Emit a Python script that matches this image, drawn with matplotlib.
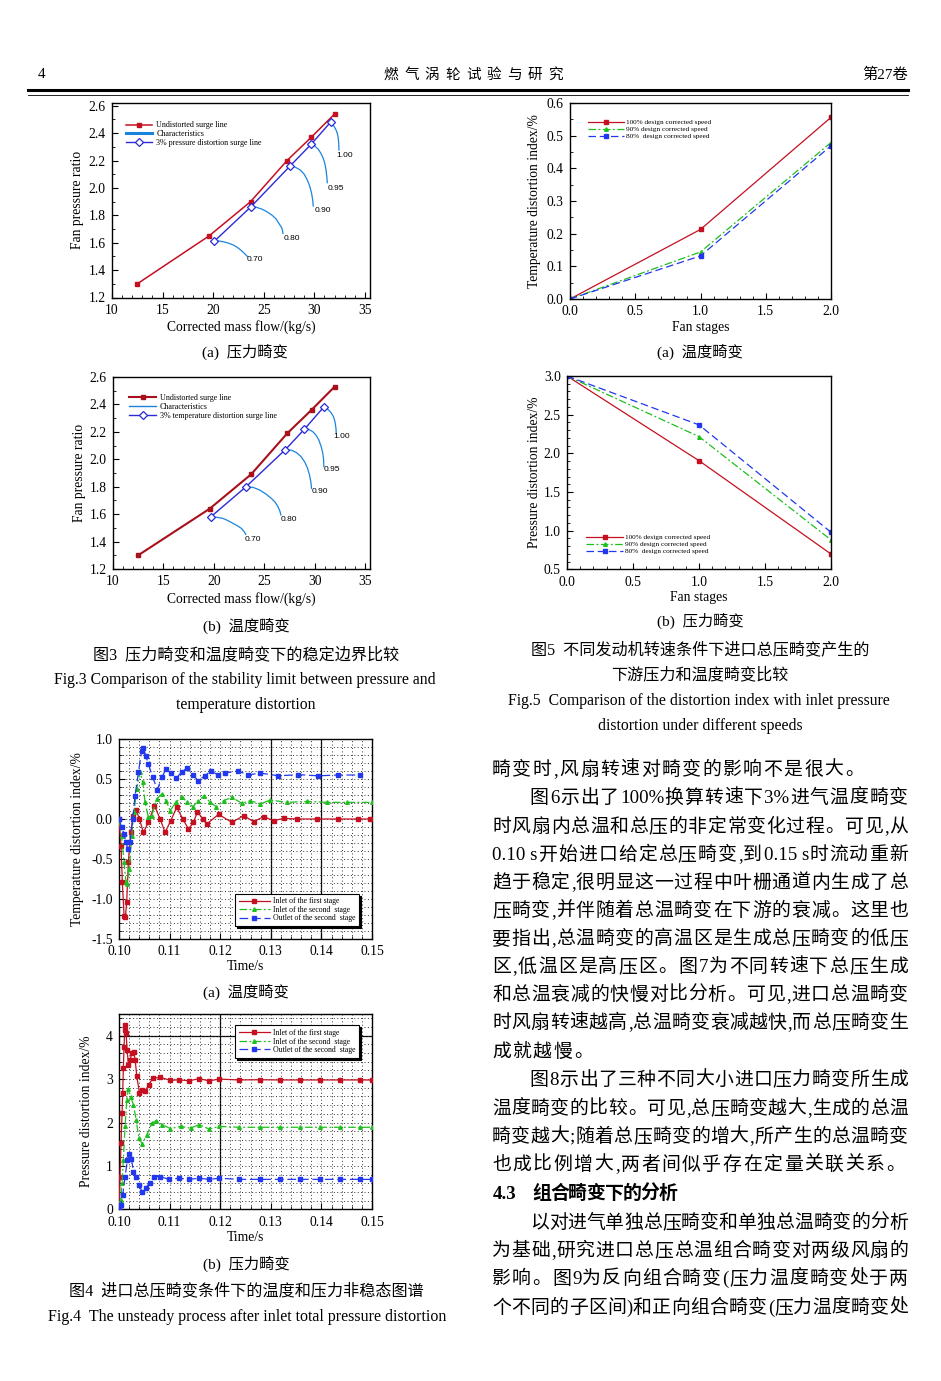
import re
import matplotlib
matplotlib.use('Agg')
import matplotlib.pyplot as plt
from matplotlib.lines import Line2D
from matplotlib.ticker import MultipleLocator, FormatStrFormatter

# ---------------- data ----------------
# Fig.3(a) pressure distortion
mass_undist_a = [12.5, 19.6, 23.7, 27.3, 29.7, 32.0]
pr_undist_a = [1.30, 1.65, 1.90, 2.20, 2.37, 2.54]
mass_dist_a = [20.1, 23.7, 27.6, 29.7, 31.6]
pr_dist_a = [1.61, 1.86, 2.16, 2.32, 2.48]
char_mass_a = [
    [20.1, 20.6, 21.0, 21.5, 22.0, 22.4, 22.8, 23.1, 23.4],
    [23.7, 24.2, 24.8, 25.3, 25.8, 26.2, 26.5, 26.8, 26.9],
    [27.6, 28.1, 28.6, 29.0, 29.3, 29.55, 29.73, 29.83, 29.89],
    [29.7, 30.05, 30.4, 30.65, 30.88, 31.05, 31.15, 31.23, 31.28],
    [31.6, 31.8, 31.97, 32.13, 32.27, 32.35, 32.4, 32.42, 32.43],
]
char_pr_a = [
    [1.61, 1.612, 1.607, 1.597, 1.583, 1.565, 1.542, 1.521, 1.498],
    [1.86, 1.860, 1.846, 1.827, 1.802, 1.775, 1.741, 1.705, 1.668],
    [2.16, 2.152, 2.131, 2.100, 2.058, 2.012, 1.960, 1.914, 1.868],
    [2.32, 2.305, 2.281, 2.252, 2.216, 2.175, 2.131, 2.085, 2.038],
    [2.48, 2.465, 2.447, 2.425, 2.398, 2.370, 2.337, 2.307, 2.277],
]
speed_labels = ['0.70', '0.80', '0.90', '0.95', '1.00']

# Fig.3(b) temperature distortion
mass_undist_b = [12.5, 19.6, 23.7, 27.3, 29.7, 32.0]
pr_undist_b = [1.30, 1.64, 1.89, 2.19, 2.36, 2.53]
mass_dist_b = [19.7, 23.2, 27.1, 29.0, 30.9]
pr_dist_b = [1.58, 1.80, 2.07, 2.22, 2.38]
char_mass_b = [
    [19.7, 20.3, 20.9, 21.4, 21.9, 22.35, 22.74, 23.0, 23.17],
    [23.2, 23.9, 24.55, 25.15, 25.71, 26.1, 26.37, 26.55, 26.66],
    [27.1, 27.7, 28.18, 28.65, 29.01, 29.3, 29.50, 29.63, 29.70],
    [29.0, 29.45, 29.83, 30.15, 30.43, 30.65, 30.82, 30.9, 30.92],
    [30.9, 31.22, 31.49, 31.7, 31.88, 32.0, 32.08, 32.13, 32.15],
]
char_pr_b = [
    [1.58, 1.577, 1.569, 1.553, 1.533, 1.515, 1.496, 1.474, 1.453],
    [1.80, 1.795, 1.776, 1.748, 1.715, 1.686, 1.654, 1.624, 1.594],
    [2.07, 2.066, 2.050, 2.020, 1.982, 1.935, 1.885, 1.836, 1.788],
    [2.22, 2.217, 2.201, 2.175, 2.140, 2.093, 2.043, 1.995, 1.946],
    [2.38, 2.370, 2.352, 2.333, 2.310, 2.281, 2.250, 2.220, 2.189],
]

# Fig.5 distortion index vs fan stages
stages = [0.0, 1.0, 2.0]
temp_idx_100 = [0.0, 0.213, 0.556]
temp_idx_90 = [0.0, 0.144, 0.479]
temp_idx_80 = [0.0, 0.132, 0.469]
pres_idx_100 = [3.0, 1.905, 0.698]
pres_idx_90 = [3.0, 2.216, 0.880]
pres_idx_80 = [3.0, 2.368, 0.979]
speed_names = ['100% design corrected speed', '90% design corrected speed',
               '80%  design corrected speed']

# Fig.4(a) temperature distortion index vs time
t_temp_in1 = [0.1000, 0.1004, 0.10066, 0.1010, 0.10125, 0.10152, 0.10185, 0.10231,
              0.10284, 0.10337, 0.10403, 0.10482, 0.10581, 0.10700, 0.10812, 0.10911,
              0.11023, 0.11142, 0.11261, 0.11373, 0.11472, 0.11551, 0.11657, 0.11736,
              0.11967, 0.12231, 0.12462, 0.12660, 0.12858, 0.13056, 0.13254, 0.1352,
              0.1392, 0.1432, 0.1472, 0.1497]
v_temp_in1 = [0.0, -0.333, -0.79, -1.21, -1.23, -1.04, -0.54, -0.167,
              0.042, 0.117, 0.0, -0.167, -0.042, 0.167, 0.0, -0.167,
              -0.021, 0.146, 0.0, -0.125, -0.042, 0.092, 0.0, -0.0625,
              0.058, -0.042, 0.042, -0.033, 0.029, -0.021, 0.008, 0.0,
              0.0, 0.0, 0.0, 0.0]
t_temp_in2 = [0.1000, 0.10053, 0.10099, 0.10139, 0.10152, 0.10205, 0.10251, 0.10297,
              0.10350, 0.10416, 0.10469, 0.10515, 0.10581, 0.10647, 0.10746, 0.10845,
              0.10931, 0.11010, 0.11122, 0.11241, 0.11353, 0.11459, 0.11571, 0.11683,
              0.11802, 0.11921, 0.12066, 0.12231, 0.12429, 0.12594, 0.12792, 0.12990,
              0.13320, 0.13716, 0.14112, 0.14508, 0.1500]
v_temp_in2 = [0.0, -0.21, -0.54, -0.79, -0.81, -0.625, -0.21, 0.083,
              0.375, 0.59, 0.458, 0.208, 0.021, 0.042, 0.25, 0.3125,
              0.229, 0.104, 0.208, 0.279, 0.208, 0.154, 0.229, 0.29,
              0.208, 0.154, 0.229, 0.27, 0.196, 0.229, 0.1875, 0.2375,
              0.208, 0.22, 0.208, 0.208, 0.208]
t_temp_out2 = [0.1000, 0.10053, 0.10099, 0.10139, 0.10172, 0.10218, 0.10271, 0.10317,
               0.10383, 0.10449, 0.10482, 0.10528, 0.10581, 0.10667, 0.10759, 0.10845,
               0.10931, 0.11030, 0.11129, 0.11241, 0.11353, 0.11459, 0.11567, 0.11696,
               0.11815, 0.11960, 0.12092, 0.12356, 0.12554, 0.12785, 0.13148, 0.13545,
               0.13941, 0.14337, 0.14766]
v_temp_out2 = [0.0, -0.104, -0.1875, -0.29, -0.375, -0.29, 0.0, 0.29,
               0.583, 0.854, 0.883, 0.79, 0.6875, 0.52, 0.367, 0.52,
               0.625, 0.575, 0.508, 0.59, 0.64, 0.55, 0.479, 0.54,
               0.60, 0.55, 0.575, 0.60, 0.55, 0.575, 0.54, 0.554,
               0.54, 0.55, 0.55]

# Fig.4(b) pressure distortion index vs time
t_pres_in1 = [0.1000, 0.1002, 0.1004, 0.1006, 0.10073, 0.10086, 0.1010, 0.10113,
              0.10126, 0.1014, 0.1016, 0.10186, 0.10219, 0.10259, 0.10292, 0.10319,
              0.10352, 0.10405, 0.10458, 0.10518, 0.10585, 0.10671, 0.10817, 0.11017,
              0.11183, 0.11382, 0.11581, 0.11781, 0.1198, 0.12379, 0.12777, 0.13176,
              0.13575, 0.13973, 0.14372, 0.14771, 0.1500]
v_pres_in1 = [0.0, 0.754, 1.52, 2.215, 2.68, 3.25, 3.75, 4.14,
              4.25, 4.06, 3.68, 3.33, 3.45, 3.60, 3.62, 3.45,
              3.06, 2.68, 2.75, 2.715, 2.87, 3.02, 3.04, 2.97,
              2.985, 2.96, 3.01, 2.96, 3.00, 2.98, 2.985, 2.98,
              2.98, 2.98, 2.98, 2.98, 2.98]
t_pres_in2 = [0.1000, 0.10033, 0.1006, 0.10086, 0.10120, 0.10153, 0.10186, 0.10233,
              0.10286, 0.10339, 0.10392, 0.10458, 0.10551, 0.10651, 0.10738, 0.10850,
              0.11017, 0.11216, 0.11415, 0.11581, 0.11781, 0.11980, 0.12379, 0.12777,
              0.13176, 0.13575, 0.13973, 0.14372, 0.14771, 0.1500]
v_pres_in2 = [0.0, 0.215, 0.60, 1.14, 1.91, 2.52, 2.78, 2.58,
              2.41, 2.06, 1.64, 1.51, 1.715, 1.985, 2.04, 1.95,
              1.86, 1.91, 1.87, 1.95, 1.85, 1.91, 1.89, 1.89,
              1.89, 1.89, 1.89, 1.89, 1.89, 1.89]
t_pres_out2 = [0.1000, 0.10033, 0.10073, 0.10120, 0.10166, 0.10206, 0.10246, 0.10286,
               0.10339, 0.10392, 0.10458, 0.10525, 0.10605, 0.10698, 0.10817, 0.10983,
               0.11183, 0.11382, 0.11581, 0.11781, 0.1198, 0.12379, 0.12777, 0.13176,
               0.13575, 0.13973, 0.14372, 0.14771, 0.1500]
v_pres_out2 = [0.0, 0.10, 0.33, 0.75, 1.14, 1.28, 1.15, 0.87,
               0.75, 0.56, 0.41, 0.485, 0.615, 0.754, 0.754, 0.69,
               0.715, 0.69, 0.715, 0.69, 0.715, 0.69, 0.69, 0.69,
               0.69, 0.69, 0.69, 0.69, 0.69]
stage_names = ['Inlet of the first stage', 'Inlet of the second  stage',
               'Outlet of the second  stage']

# body text (right column)
body_lines = [
    ('畸变时,风扇转速对畸变的影响不是很大。', 0, False),
    ('图6示出了100%换算转速下3%进气温度畸变', 2, True),
    ('时风扇内总温和总压的非定常变化过程。可见,从', 0, True),
    ('0.10 s开始进口给定总压畸变,到0.15 s时流动重新', 0, True),
    ('趋于稳定,很明显这一过程中叶栅通道内生成了总', 0, True),
    ('压畸变,并伴随着总温畸变在下游的衰减。这里也', 0, True),
    ('要指出,总温畸变的高温区是生成总压畸变的低压', 0, True),
    ('区,低温区是高压区。图7为不同转速下总压生成', 0, True),
    ('和总温衰减的快慢对比分析。可见,进口总温畸变', 0, True),
    ('时风扇转速越高,总温畸变衰减越快,而总压畸变生', 0, True),
    ('成就越慢。', 0, False),
    ('图8示出了三种不同大小进口压力畸变所生成', 2, True),
    ('温度畸变的比较。可见,总压畸变越大,生成的总温', 0, True),
    ('畸变越大;随着总压畸变的增大,所产生的总温畸变', 0, True),
    ('也成比例增大,两者间似乎存在定量关联关系。', 0, False),
    ('4.3 组合畸变下的分析', 0, 'head'),
    ('以对进气单独总压畸变和单独总温畸变的分析', 2, True),
    ('为基础,研究进口总压总温组合畸变对两级风扇的', 0, True),
    ('影响。图9为反向组合畸变(压力温度畸变处于两', 0, True),
    ('个不同的子区间)和正向组合畸变(压力温度畸变处', 0, True),
]
body_y = [768, 796, 825, 853, 881, 909, 937, 965, 993, 1021,
          1050, 1078, 1107, 1135, 1163, 1192, 1221, 1249, 1277, 1306]

# ---------------- figure ----------------
W, H = 941, 1381
SERIF = ['Liberation Serif', 'Noto Sans CJK SC', 'DejaVu Sans']
plt.rcParams['font.family'] = SERIF
plt.rcParams['axes.unicode_minus'] = True
fig = plt.figure(figsize=(W / 100, H / 100), dpi=100)
fig.patch.set_facecolor('white')

RED = '#c41020'
DRED = '#a8101c'
BLUE = '#2b2bd6'
AZURE = '#1a84dc'
GREEN = '#1fbf1f'
BLUE2 = '#2238ee'

AXPX = {}


def add_ax(x0, x1, ytop, ybot):
    ax = fig.add_axes([x0 / W, 1 - ybot / H, (x1 - x0) / W, (ybot - ytop) / H])
    AXPX[ax] = (x0, x1, ytop, ybot)
    ax.tick_params(direction='in', which='both', top=False, right=False,
                   labelsize=9.8, pad=4.5)
    ax.tick_params(which='major', length=4.5, width=0.8)
    ax.tick_params(which='minor', length=2.5, width=0.6)
    for s in ax.spines.values():
        s.set_linewidth(1.0)
    return ax


def labels(ax, xl, yl, xl_top, yl_right, fs=9.8):
    x0, x1, yt, yb = AXPX[ax]
    ax.set_xlabel(xl, fontsize=fs)
    ax.set_ylabel(yl, fontsize=fs)
    ax.xaxis.set_label_coords(0.5, -(xl_top - yb) / (yb - yt))
    ax.yaxis.set_label_coords((yl_right - x0) / (x1 - x0), 0.5)


def ftext(x, y, s, **kw):
    kw.setdefault('fontsize', 11)
    kw.setdefault('ha', 'center')
    kw.setdefault('va', 'center')
    return fig.text(x / W, 1 - y / H, s, **kw)


def fig3(ax, mu, pu, md, pd, cm, cp, dist_label, lab_pos, char_lw_leg, ulw, ucol, anchor):
    ax.set_xlim(10, 35.5)
    ax.xaxis.set_major_locator(MultipleLocator(5))
    ax.xaxis.set_minor_locator(MultipleLocator(1))
    ax.yaxis.set_major_locator(MultipleLocator(0.2))
    ax.yaxis.set_minor_locator(MultipleLocator(0.1))
    ax.yaxis.set_major_formatter(FormatStrFormatter('%.1f'))
    for xs, ys in zip(cm, cp):
        ax.plot(xs, ys, color=AZURE, lw=0.9, zorder=2)
    ax.plot(mu, pu, color=ucol, lw=ulw, marker='s', ms=3, zorder=3)
    ax.plot(md, pd, color=BLUE, lw=1.0, marker='D', ms=4.2, mfc='white',
            mew=0.9, zorder=4)
    for (lx, ly), s in zip(lab_pos, speed_labels):
        ax.text(lx, ly, s, fontsize=6, ha='left', va='center',
                family=['Liberation Sans', 'DejaVu Sans'])
    handles = [Line2D([], [], color=ucol, lw=ulw, marker='s', ms=3),
               Line2D([], [], color=AZURE, lw=char_lw_leg),
               Line2D([], [], color=BLUE, lw=1.0, marker='D', ms=4.2, mfc='white', mew=0.9)]
    ax.legend(handles, ['Undistorted surge line', 'Characteristics', dist_label],
              loc='upper left', bbox_to_anchor=anchor, frameon=False,
              fontsize=5.8, handlelength=3.3, handletextpad=0.5, labelspacing=0.08,
              borderaxespad=0.2)


# Fig.3(a)
ax = add_ax(112, 370, 103, 297.5)
ax.set_ylim(1.2, 2.62)
fig3(ax, mass_undist_a, pr_undist_a, mass_dist_a, pr_dist_a, char_mass_a, char_pr_a,
     '3% pressure distortion surge line',
     [(23.3, 1.474), (26.93, 1.632), (29.99, 1.834), (31.28, 1.997), (32.2, 2.24)],
     2.2, 1.1, RED, (0.035, 0.93))
labels(ax, 'Corrected mass flow/(kg/s)', 'Fan pressure ratio', 320, 84)

# Fig.3(b)
ax = add_ax(113, 370, 377, 569)
ax.set_ylim(1.2, 2.6)
fig3(ax, mass_undist_b, pr_undist_b, mass_dist_b, pr_dist_b, char_mass_b, char_pr_b,
     '3% temperature distortion surge line',
     [(23.07, 1.414), (26.6, 1.564), (29.73, 1.763), (30.92, 1.929), (31.91, 2.164)],
     1.0, 1.5, DRED, (0.045, 0.935))
labels(ax, 'Corrected mass flow/(kg/s)', 'Fan pressure ratio', 592, 86)


def fig5(ax, y100, y90, y80, ylim, ymaj, ymin, legloc, anchor):
    ax.set_xlim(0, 2)
    ax.set_ylim(*ylim)
    ax.xaxis.set_major_locator(MultipleLocator(0.5))
    ax.xaxis.set_minor_locator(MultipleLocator(0.1))
    ax.yaxis.set_major_locator(MultipleLocator(ymaj))
    ax.yaxis.set_minor_locator(MultipleLocator(ymin))
    ax.xaxis.set_major_formatter(FormatStrFormatter('%.1f'))
    ax.yaxis.set_major_formatter(FormatStrFormatter('%.1f'))
    ax.plot(stages, y100, color=RED, lw=0.9, marker='s', ms=2.6, label=speed_names[0])
    ax.plot(stages, y90, color=GREEN, lw=0.9, marker='^', ms=2.6,
            dashes=(6, 2, 1.5, 2), label=speed_names[1])
    ax.plot(stages, y80, color=BLUE2, lw=0.9, marker='s', ms=3.2,
            dashes=(6, 3), label=speed_names[2])
    ax.legend(loc=legloc, bbox_to_anchor=anchor, frameon=False, fontsize=5.2,
              handlelength=5.0, handletextpad=0.3, labelspacing=0.12, borderaxespad=0.1)


# Fig.5(a)
ax = add_ax(570, 831, 103, 299)
fig5(ax, temp_idx_100, temp_idx_90, temp_idx_80, (0, 0.6), 0.1, 0.05,
     'upper left', (0.055, 0.935))
labels(ax, 'Fan stages', 'Temperature distortion index/%', 321, 541)

# Fig.5(b)
ax = add_ax(567, 831, 376, 569.3)
fig5(ax, pres_idx_100, pres_idx_90, pres_idx_80, (0.5, 3.0), 0.5, 0.1,
     'lower left', (0.06, 0.06))
labels(ax, 'Fan stages', 'Pressure distortion index/%', 591, 541)


def fig4(ax, series, ylim, ymaj, ymin, yfmt, solid_v, solid_h, legloc, anchor):
    ax.set_xlim(0.10, 0.15)
    ax.set_ylim(*ylim)
    ax.xaxis.set_major_locator(MultipleLocator(0.01))
    ax.xaxis.set_minor_locator(MultipleLocator(0.002))
    ax.yaxis.set_major_locator(MultipleLocator(ymaj))
    ax.yaxis.set_minor_locator(MultipleLocator(ymin))
    ax.xaxis.set_major_formatter(FormatStrFormatter('%.2f'))
    ax.yaxis.set_major_formatter(FormatStrFormatter(yfmt))
    ax.grid(True, which='both', ls=(0, (1, 2.5)), color='#333333', lw=0.7)
    for xv in solid_v:
        ax.axvline(xv, color='black', lw=0.9, zorder=1.5)
    for yv in solid_h:
        ax.axhline(yv, color='black', lw=0.9, zorder=1.5)
    (t1, v1), (t2, v2), (t3, v3) = series
    ax.plot(t1, v1, color=RED, lw=0.9, marker='s', ms=2.3, label=stage_names[0], zorder=3)
    ax.plot(t2, v2, color=GREEN, lw=0.9, marker='^', ms=2.6, dashes=(6, 2, 1.5, 2),
            label=stage_names[1], zorder=3)
    ax.plot(t3, v3, color=BLUE2, lw=0.9, marker='s', ms=3.0, dashes=(7, 3),
            label=stage_names[2], zorder=3)
    leg = ax.legend(loc=legloc, bbox_to_anchor=anchor, fontsize=5.6, fancybox=False,
                    edgecolor='black', framealpha=1, handlelength=4.0,
                    handletextpad=0.4, labelspacing=0.05, borderpad=0.5,
                    shadow={'color': 'black', 'alpha': 1, 'ox': 1.5, 'oy': -1.5})
    leg.get_frame().set_linewidth(0.8)
    leg.set_zorder(5)


# Fig.4(a)
ax = add_ax(119, 372, 739, 939)
fig4(ax, [(t_temp_in1, v_temp_in1), (t_temp_in2, v_temp_in2), (t_temp_out2, v_temp_out2)],
     (-1.5, 1.0), 0.5, 0.1, '%.1f', [0.13, 0.14], [], 'lower right', (0.965, 0.045))
labels(ax, 'Time/s', 'Temperature distortion index/%', 960, 84)

# Fig.4(b)
ax = add_ax(119, 372, 1014, 1209.3)
fig4(ax, [(t_pres_in1, v_pres_in1), (t_pres_in2, v_pres_in2), (t_pres_out2, v_pres_out2)],
     (0, 4.5), 1, 0.2, '%d', [0.12], [4], 'upper right', (0.965, 0.962))
labels(ax, 'Time/s', 'Pressure distortion index/%', 1231, 93)

# ---------------- page text ----------------
# header
ftext(42, 75, '4', fontsize=11)
hdr = '燃气涡轮试验与研究'
for i, ch in enumerate(hdr):
    ftext(391 + i * 20.6, 75, ch, fontsize=10.5)
ftext(908, 75, '第27卷', fontsize=11, ha='right')
fig.add_artist(Line2D([28 / W, 908 / W], [1 - 90 / H, 1 - 90 / H], color='black', lw=2.2))
fig.add_artist(Line2D([28 / W, 908 / W], [1 - 94.5 / H, 1 - 94.5 / H], color='black', lw=0.6))

# captions
CJK_CAP = 11.6
EN_CAP = 11.3
ftext(245, 352, '(a)  压力畸变')
ftext(700, 352, '(a)  温度畸变')
ftext(246, 626, '(b)  温度畸变')
ftext(700, 621, '(b)  压力畸变')
ftext(246, 655, '图3  压力畸变和温度畸变下的稳定边界比较', fontsize=CJK_CAP)
ftext(245, 680, 'Fig.3 Comparison of the stability limit between pressure and', fontsize=EN_CAP)
ftext(246, 705, 'temperature distortion', fontsize=EN_CAP)
ftext(700, 650, '图5  不同发动机转速条件下进口总压畸变产生的', fontsize=CJK_CAP)
ftext(700, 675, '下游压力和温度畸变比较', fontsize=CJK_CAP)
ftext(699, 701, 'Fig.5  Comparison of the distortion index with inlet pressure', fontsize=EN_CAP)
ftext(700, 726, 'distortion under different speeds', fontsize=EN_CAP)
ftext(246, 992, '(a)  温度畸变')
ftext(246, 1264, '(b)  压力畸变')
ftext(246, 1291, '图4  进口总压畸变条件下的温度和压力非稳态图谱', fontsize=CJK_CAP)
ftext(247, 1317, 'Fig.4  The unsteady process after inlet total pressure distortion',
      fontsize=EN_CAP + 0.2)

# body text with justification
renderer = fig.canvas.get_renderer()
BFS = 13.6
EM = BFS * 100 / 72.0
X0, X1 = 492, 908


def is_cjk(tok):
    return len(tok) == 1 and ord(tok) > 0x2E80


def place_line(s, y, indent, justify, bold=False):
    toks = re.findall(r'[A-Za-z0-9.%]+(?: s(?![A-Za-z]))?|.', s)
    toks = [t for t in toks if t != ' ']
    fam = ['Liberation Serif', 'Noto Sans CJK SC']
    weight = 'normal'
    if bold:
        fam = ['Liberation Serif', 'Noto Sans CJK SC']
        weight = 'bold'
    widths = []
    for t in toks:
        if is_cjk(t):
            w = EM * (0.93 if bold else 1.0)
        else:
            tt = fig.text(0, 0, t, fontsize=BFS, family=fam, weight=weight)
            w = tt.get_window_extent(renderer).width
            tt.remove()
        widths.append(w)
    start = X0 + indent * EM
    total = sum(widths)
    n = len(toks)
    if justify and n > 1:
        gap = (X1 - start - total) / (n - 1)
    else:
        gap = 1.5 if not bold else 0.5
    gap_list = [gap] * n
    if bold:
        gap_list[0] = EM * 0.9
    x = start
    base = y + 0.36 * EM
    for t, w, g in zip(toks, widths, gap_list):
        if is_cjk(t) and t not in '。':
            fig.text((x + w / 2) / W, 1 - base / H, t, fontsize=BFS, family=fam,
                     weight=weight, ha='center', va='baseline')
        else:
            fig.text((x + 0.5) / W, 1 - base / H, t, fontsize=BFS, family=fam,
                     weight=weight, ha='left', va='baseline')
        x += w + g


for (s, ind, mode), y in zip(body_lines, body_y):
    if mode == 'head':
        place_line(s, y, 0, False, bold=True)
    else:
        place_line(s, y, ind, mode)

fig.savefig('out.png', dpi=100, facecolor='white')
